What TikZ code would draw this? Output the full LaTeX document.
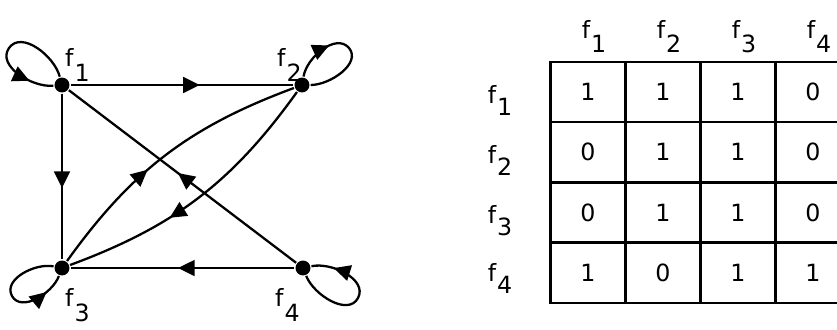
\documentclass[tikz,border=0pt]{standalone}
\usepackage{fontspec}
\setmainfont{DejaVu Sans}
\usetikzlibrary{arrows.meta,decorations.markings}

\newcommand{\fsub}[2][7pt]{f\kern0.6pt\raisebox{-#1}{#2}}

\tikzset{
  dot/.style={circle,fill,inner sep=0pt,minimum size=8.5pt},
  lbl/.style={inner sep=0pt,font=\fontsize{13.5}{15}\selectfont},
  cell/.style={draw,line width=1.3pt,minimum width=1.5cm,minimum height=1.2cm,
    inner sep=0pt,font=\fontsize{13.5}{15}\selectfont},
  midarrow/.style={postaction={decorate},decoration={markings,
    mark=at position #1 with {\arrow{Triangle[length=9.5pt,width=9pt]}}}},
  selfloop/.style={looseness=0.95},
}

\begin{document}
\begin{tikzpicture}[x=0.02cm,y=0.02cm,line width=1.3pt]
      \useasboundingbox (0,0) rectangle (837,329);
      \clip (0,0) rectangle (837,329);
      % graph
      \draw
        (62,244) node[dot] (f1){}
        (302,244) node[dot] (f2){}
        (62,61) node[dot] (f3){}
        (303,61) node[dot] (f4){};
      \coordinate (t1) at (9,281);
      \coordinate (t2) at (349,281);
      \coordinate (t3) at (12,33);
      \coordinate (t4) at (358,31);
      \node[lbl,anchor=base west] (l1) at (64,263) {\fsub[9pt]{1}};
      \node[lbl,anchor=base west] (l2) at (276,263) {\fsub[9pt]{2}};
      \node[lbl,anchor=base west] (l3) at (64,23) {\fsub[9pt]{3}};
      \node[lbl,anchor=base west] (l4) at (274,23) {\fsub[9pt]{4}};
      \begin{scope}[-]
        \draw[midarrow=0.58] (f1) to (f2);
        \draw[midarrow=0.57] (f1) to (f3);
        \draw[midarrow=0.52] (f4) to (f3);
        \draw[midarrow=0.52] (f4) to (f1);
        \draw[midarrow=0.42] (f3) to[bend left=17] (f2);
        \draw[midarrow=0.62] (f2) to[bend left=17] (f3);
        % self loops
        \draw[midarrow=0.82,selfloop] (f1) to[out=105,in=55] (t1) to[out=235,in=185] (f1);
        \draw[midarrow=0.33,selfloop] (f2) to[out=80,in=130] (t2) to[out=310,in=0] (f2);
        \draw[midarrow=0.83,selfloop] (f3) to[out=169,in=119] (t3) to[out=299,in=249] (f3);
        \draw[midarrow=0.83,selfloop] (f4) to[out=292,in=242] (t4) to[out=62,in=12] (f4);
      \end{scope}
      % matrix
      \foreach \c in {1,...,4}
        \node[lbl,anchor=base] (h\c) at (519+75*\c,291) {\fsub[8pt]{\c}};
      \foreach \r/\y in {1/226,2/166,3/106,4/48}
        \node[lbl,anchor=base] (r\r) at (500,\y) {\fsub{\r}};
      \foreach \r/\vals in {1/{1,1,1,0},2/{0,1,1,0},3/{0,1,1,0},4/{1,0,1,1}}
        \foreach \v [count=\c] in \vals
          \node[cell] (c\r\c) at (513+75*\c,297.3-60.3*\r) {\v};
    \end{tikzpicture}
\end{document}
